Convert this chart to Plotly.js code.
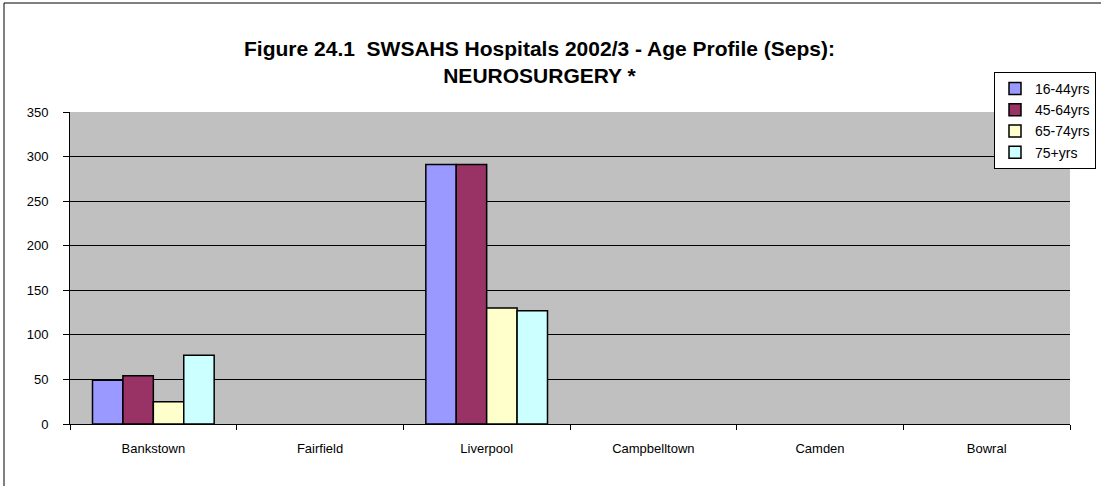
<!DOCTYPE html>
<html>
<head>
<meta charset="utf-8">
<script src="https://cdn.plot.ly/plotly-3.0.1.min.js"></script>
<style>
html,body{margin:0;padding:0;background:#fff;}
#chart{width:1101px;height:486px;}
</style>
</head>
<body>
<div id="chart"></div>
<script>
const hospitals = ["Bankstown", "Fairfield", "Liverpool", "Campbelltown", "Camden", "Bowral"];
const seriesNames = ["16-44yrs", "45-64yrs", "65-74yrs", "75+yrs"];
const age16_44 = [49, 0, 291, 0, 0, 0];
const age45_64 = [54, 0, 291, 0, 0, 0];
const age65_74 = [25, 0, 130, 0, 0, 0];
const age75plus = [77, 0, 127, 0, 0, 0];
const yTicks = [0, 50, 100, 150, 200, 250, 300, 350];

const colors = ["#9999FF", "#993366", "#FFFFCC", "#CCFFFF"];
const values = [age16_44, age45_64, age65_74, age75plus];

const traces = values.map((v, i) => ({
  type: "bar",
  name: seriesNames[i],
  x: hospitals,
  y: v.map(d => (d === 0 ? null : d)),
  legendgroup: "g" + i,
  marker: {color: colors[i], line: {color: "#000000", width: 1.5}},
  hoverinfo: "x+y+name"
}));

const L = 70, R = 1070, T = 112, B = 424;
const W = R - L, H = B - T;
const px = x => (x - L) / W;
const py = y => (B - y) / H;
const FONT = "Liberation Sans, Arial, sans-serif";

const layout = {
  width: 1101,
  height: 486,
  margin: {l: L, r: 1101 - R, t: T, b: 486 - B, pad: 0, autoexpand: false},
  paper_bgcolor: "#FFFFFF",
  plot_bgcolor: "#C0C0C0",
  barmode: "group",
  bargap: 0.27,
  bargroupgap: 0,
  font: {family: FONT, color: "#000000", size: 13},
  title: {
    text: "<b>Figure 24.1  SWSAHS Hospitals 2002/3 - Age Profile (Seps):<br>NEUROSURGERY *</b>",
    font: {family: FONT, size: 21, color: "#000000"},
    x: 0.49,
    xanchor: "center",
    y: 1 - 56 / 486,
    yanchor: "middle"
  },
  xaxis: {
    type: "category",
    showline: true,
    linecolor: "#000000",
    linewidth: 1,
    ticks: "outside",
    tickson: "boundaries",
    ticklen: 5,
    tickcolor: "#000000",
    ticklabelstandoff: 12,
    showgrid: false,
    zeroline: false,
    tickfont: {size: 13, family: FONT}
  },
  yaxis: {
    range: [0, 350],
    tickvals: yTicks,
    ticktext: yTicks.map(String),
    showline: true,
    linecolor: "#000000",
    linewidth: 1,
    ticks: "outside",
    ticklen: 6,
    tickcolor: "#000000",
    ticklabelstandoff: 12,
    showgrid: true,
    gridcolor: "#000000",
    gridwidth: 1,
    zeroline: false,
    tickfont: {size: 13, family: FONT}
  },
  showlegend: true,
  legend: {
    x: px(994),
    y: py(72),
    xanchor: "left",
    yanchor: "top",
    bgcolor: "#FFFFFF",
    bordercolor: "#000000",
    borderwidth: 1,
    font: {size: 14, family: FONT},
    traceorder: "normal",
    tracegroupgap: 8,
    itemwidth: 30
  },
  shapes: [
    {type: "line", xref: "paper", yref: "paper", x0: px(4), x1: px(4), y0: py(3), y1: py(486), line: {color: "#000000", width: 1}},
    {type: "line", xref: "paper", yref: "paper", x0: px(4), x1: px(1101), y0: py(3), y1: py(3), line: {color: "#000000", width: 1}}
  ]
};

Plotly.newPlot("chart", traces, layout, {displayModeBar: false, staticPlot: true});
</script>
</body>
</html>
